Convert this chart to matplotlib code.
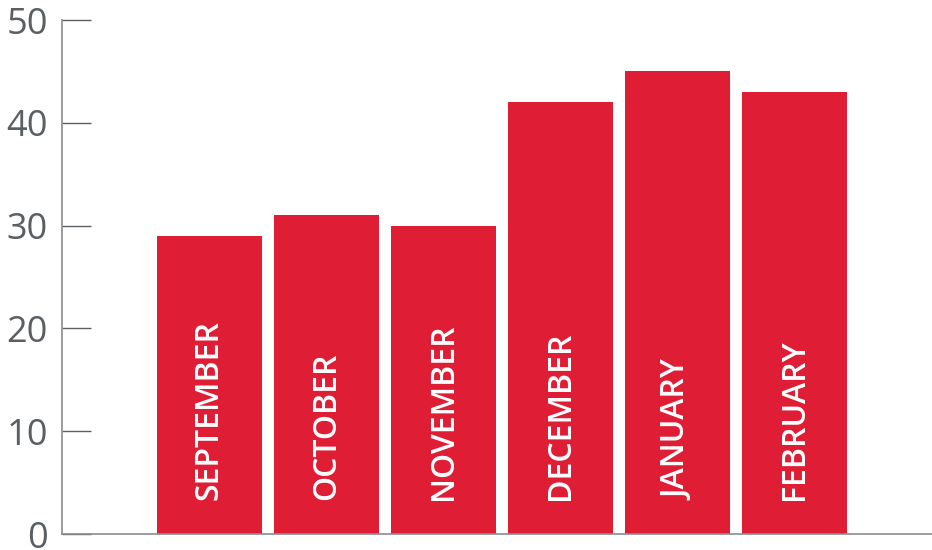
import matplotlib.pyplot as plt

# Monthly values
months = ['SEPTEMBER', 'OCTOBER', 'NOVEMBER', 'DECEMBER', 'JANUARY', 'FEBRUARY']
values = [29, 31, 30, 42, 45, 43]
yticks = [0, 10, 20, 30, 40, 50]

red = '#DF1E35'
grey = '#5A5F63'

fig = plt.figure(figsize=(9.32, 5.5), dpi=100)
ax = fig.add_axes([62 / 932, 16 / 550, 1 - 62 / 932, 514 / 550])

x = list(range(len(months)))
ax.bar(x, values, width=0.9, color=red, zorder=2)

# month names written up inside each bar
for i, m in enumerate(months):
    ax.text(i, 3.3, m, rotation=90, ha='center', va='bottom', color='white',
            fontsize=23, fontfamily='Open Sans', fontweight='semibold', zorder=3)

ax.set_xlim(-1.26, 6.175)
ax.set_ylim(0, 50)
ax.set_xticks([])
ax.set_yticks(yticks)
ax.set_yticklabels([str(t) for t in yticks], fontsize=26, fontfamily='Open Sans', color=grey)
ax.tick_params(axis='y', direction='in', length=21, width=1, color=grey, pad=10)

for s in ['top', 'right']:
    ax.spines[s].set_visible(False)
for s in ['left', 'bottom']:
    ax.spines[s].set_color('#8A8D90')
    ax.spines[s].set_linewidth(1.2)

fig.savefig('out.png', dpi=100)
